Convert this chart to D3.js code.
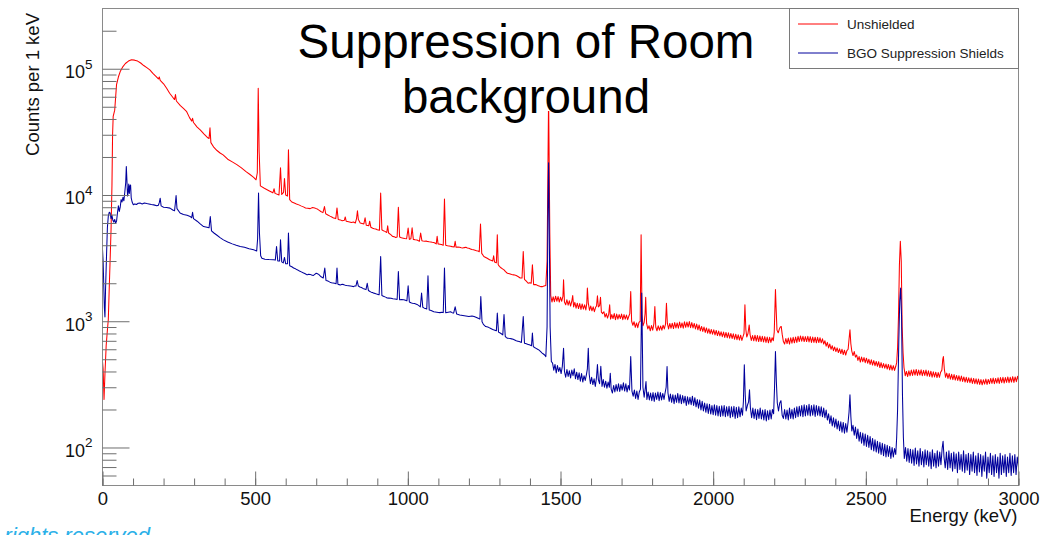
<!DOCTYPE html>
<html>
<head>
<meta charset="utf-8">
<script src="https://cdn.jsdelivr.net/npm/d3@7"></script>
<style>
  body { margin: 0; background: #fff; }
  svg { display: block; }
  text { font-family: "Liberation Sans", Arial, Helvetica, sans-serif; }
</style>
</head>
<body>
<svg id="chart" width="1064" height="535"></svg>
<script>
// ---- axis definitions ----
const energyMajorTicks = [0, 500, 1000, 1500, 2000, 2500, 3000];
const energyMinorTicks = d3.range(0, 3001, 100);
const countDecades = [2, 3, 4, 5];               // labelled as 10^n
const countMinorTicks = [60, 70, 80, 90,
  200, 300, 400, 500, 600, 700, 800, 900,
  2000, 3000, 4000, 5000, 6000, 7000, 8000, 9000,
  20000, 30000, 40000, 50000, 60000, 70000, 80000, 90000,
  200000];

const titleLines = ["Suppression of Room", "background"];
const legendLabels = ["Unshielded", "BGO Suppression Shields"];
const seriesColors = ["#ff0000", "#00009c"];

// ---- spectra: [energy (keV), counts per 1 keV] ----
const unshielded = [
  [0,480],[2,420],[5,240],[8,380],[12,640],[16,850],[19,1030],[22,1800],[25,3070],[28,5300],[31,12000],[33,30000],
  [35,42000],[40,47000],[46,75000],[52,86000],[58,95000],[67,104000],[75,110000],[85,115000],[95,118000],
  [105,117000],[115,115000],[125,111000],[135,106000],[145,102000],[155,98000],[165,92000],[175,87000],
  [183,83000],[186,86000],[189,81000],[200,76000],[210,70000],[220,64000],[230,59500],[236,57000],[239,62500],
  [242,55500],[255,51000],[265,48500],[275,46000],[285,41000],[292,38500],[295,40500],[298,37500],[310,34500],
  [320,32800],[332,30500],[345,28400],[349,28000],[352,34000],[355,26000],[365,23800],[375,22500],[385,21500],
  [395,20800],[410,19200],[425,18300],[440,17400],[455,16400],[470,15300],[482,14600],[495,13800],[503,13200],
  [507,15000],[510,70000],[513,22000],[517,11800],[530,11300],[545,10800],[558,10400],[562,11200],[565,10300],
  [578,10000],[583,16400],[587,10100],[593,10500],[596,13500],[600,10000],[606,9800],[609,22800],[613,9200],
  [620,8800],[628,8650],[635,8500],[643,8350],[650,8200],[658,8050],[665,7900],[672,7850],[680,7800],
  [688,7950],[695,7900],[700,7800],[705,7700],[710,7550],[715,7400],[722,7250],[727,8100],[731,7100],
  [738,6950],[745,6800],[751,6700],[757,6560],[764,6500],[768,7900],[772,6400],[779,6350],[785,6250],
  [792,6300],[795,6700],[798,6200],[806,6150],[815,6050],[822,6100],[828,6000],[832,6500],[835,7500],
  [838,6400],[844,6000],[850,5950],[856,5900],[860,6600],[864,5750],[872,5700],[875,6200],[879,5550],
  [885,5450],[890,5400],[895,5380],[900,5300],[907,5250],[911,10350],[915,5300],[920,5200],[925,5150],
  [931,5050],[934,5700],[937,5000],[944,4850],[950,4700],[955,4680],[960,4600],[965,4650],[969,8000],
  [973,4650],[979,4580],[985,4550],[990,4520],[996,4500],[1001,5470],[1005,4450],[1010,4500],[1014,5500],
  [1018,4450],[1024,4420],[1030,4400],[1038,4300],[1042,5000],[1046,4350],[1050,4320],[1055,4300],
  [1060,4310],[1064,4290],[1070,4260],[1075,4250],[1080,4220],[1085,4200],[1090,4150],[1093,4100],
  [1096,4700],[1099,4100],[1105,4080],[1110,4050],[1116,4000],[1120,9290],[1124,4000],[1130,3970],
  [1135,3950],[1140,3930],[1145,3900],[1152,3880],[1155,4300],[1158,3850],[1164,3870],[1170,3850],
  [1175,3820],[1180,3800],[1185,3830],[1190,3850],[1195,3800],[1200,3780],[1205,3740],[1210,3700],
  [1215,3680],[1220,3650],[1225,3620],[1230,3600],[1234,3550],[1238,5890],[1242,3450],[1249,3260],
  [1255,3200],[1260,3150],[1265,3100],[1270,3050],[1278,3000],[1281,3300],[1284,2950],[1290,2900],
  [1293,4840],[1296,2800],[1300,2720],[1305,2650],[1310,2600],[1315,2550],[1320,2470],[1326,2400],
  [1333,2380],[1340,2350],[1347,2330],[1355,2300],[1362,2250],[1368,2200],[1374,2200],[1378,3570],
  [1382,2150],[1388,2080],[1394,2000],[1399,2020],[1404,2000],[1408,2800],[1412,1950],[1420,1950],
  [1425,1920],[1430,1900],[1435,1880],[1440,1880],[1446,1900],[1452,1920],[1456,3000],[1461,60000],
  [1465,5000],[1468,1600],[1472,1420],[1476,1560],[1480,1430],[1484,1580],[1488,1440],[1492,1570],
  [1496,1420],[1500,1550],[1504,1440],[1508,1580],[1510,2130],[1513,1420],[1517,1350],[1521,1480],
  [1525,1340],[1529,1450],[1533,1320],[1537,1440],[1540,1600],[1543,1300],[1547,1410],[1551,1270],
  [1555,1390],[1559,1260],[1563,1380],[1567,1240],[1571,1370],[1575,1250],[1579,1350],[1583,1230],
  [1586,1380],[1588,1830],[1591,1400],[1595,1220],[1599,1320],[1603,1210],[1607,1300],[1611,1190],
  [1615,1290],[1618,1320],[1621,1590],[1624,1300],[1628,1330],[1631,1550],[1634,1180],[1638,1150],
  [1642,1190],[1646,1080],[1650,1150],[1654,1060],[1658,1140],[1661,1350],[1664,1040],[1668,1130],
  [1672,1050],[1676,1150],[1680,1030],[1684,1140],[1688,1040],[1692,1130],[1696,1050],[1700,1140],
  [1704,1030],[1708,1130],[1712,1040],[1716,1120],[1720,1030],[1724,1100],[1727,1150],[1730,1720],
  [1733,1000],[1737,930],[1741,990],[1745,895],[1749,970],[1753,890],[1757,980],[1761,1000],[1764,4840],
  [1767,1120],[1770,920],[1774,980],[1777,1150],[1779,1550],[1782,960],[1786,870],[1790,920],[1794,840],
  [1798,925],[1802,850],[1806,960],[1809,1310],[1812,900],[1816,840],[1820,920],[1824,850],[1828,915],
  [1832,850],[1836,930],[1840,870],[1844,950],[1847,1390],[1850,960],[1854,870],[1858,960],[1862,880],
  [1866,965],[1870,875],[1874,975],[1878,885],[1882,970],[1886,880],[1890,985],[1894,890],[1898,970],
  [1902,880],[1906,990],[1910,895],[1914,985],[1918,900],[1922,995],[1926,890],[1930,975],[1934,885],
  [1938,960],[1942,870],[1946,950],[1950,855],[1954,935],[1958,840],[1962,910],[1966,830],[1970,900],
  [1974,815],[1978,885],[1982,805],[1986,870],[1990,795],[1994,860],[1998,790],[2002,855],[2006,780],
  [2010,845],[2014,770],[2018,835],[2022,765],[2026,825],[2030,755],[2034,820],[2038,745],[2042,815],
  [2046,740],[2050,810],[2054,735],[2058,800],[2062,730],[2066,795],[2070,720],[2074,790],[2078,715],
  [2082,780],[2086,710],[2090,775],[2094,705],[2098,760],[2101,800],[2104,1350],[2107,860],[2110,750],
  [2114,800],[2118,935],[2121,780],[2125,705],[2129,770],[2133,700],[2137,775],[2141,695],[2145,770],
  [2149,690],[2153,765],[2157,690],[2161,760],[2165,685],[2169,755],[2173,680],[2177,750],[2181,675],
  [2185,745],[2189,680],[2193,740],[2197,700],[2200,820],[2202,1200],[2204,1780],[2206,1300],[2209,850],
  [2213,810],[2217,870],[2220,900],[2223,908],[2226,790],[2230,690],[2234,660],[2238,730],[2242,665],
  [2246,735],[2250,660],[2254,740],[2258,670],[2262,745],[2266,675],[2270,750],[2274,680],[2278,760],
  [2282,690],[2286,765],[2290,695],[2294,760],[2298,690],[2302,755],[2306,690],[2310,760],[2314,685],
  [2318,755],[2322,680],[2326,750],[2330,680],[2334,748],[2338,675],[2342,745],[2346,678],[2350,740],
  [2354,675],[2358,725],[2362,660],[2366,700],[2370,635],[2374,680],[2378,615],[2382,660],[2386,600],
  [2390,640],[2394,585],[2398,625],[2402,575],[2406,615],[2410,565],[2414,605],[2418,555],[2422,600],
  [2426,545],[2430,590],[2434,540],[2438,585],[2442,600],[2445,720],[2448,855],[2451,660],[2454,580],
  [2458,535],[2462,575],[2466,520],[2470,540],[2474,490],[2478,525],[2482,475],[2486,520],[2490,478],
  [2494,515],[2498,470],[2502,510],[2506,465],[2510,500],[2514,455],[2518,495],[2522,450],[2526,488],
  [2530,445],[2534,480],[2538,440],[2542,478],[2546,430],[2550,470],[2554,428],[2558,462],[2562,425],
  [2566,458],[2570,418],[2574,455],[2578,412],[2582,450],[2586,410],[2590,445],[2594,408],[2598,440],
  [2601,470],[2604,620],[2607,1100],[2610,2800],[2613,4290],[2616,3000],[2619,900],[2622,560],[2625,430],
  [2629,370],[2633,400],[2637,365],[2641,405],[2645,370],[2649,410],[2653,372],[2657,412],[2661,375],
  [2665,415],[2669,372],[2673,410],[2677,375],[2681,412],[2685,370],[2689,408],[2693,372],[2697,410],
  [2701,368],[2705,405],[2709,365],[2713,402],[2717,360],[2721,398],[2725,362],[2729,395],[2733,358],
  [2737,392],[2741,360],[2745,395],[2749,410],[2752,500],[2754,525],[2757,420],[2761,360],[2765,388],
  [2769,352],[2773,385],[2777,348],[2781,380],[2785,345],[2789,378],[2793,342],[2797,372],[2801,340],
  [2805,370],[2809,336],[2813,368],[2817,334],[2821,362],[2825,330],[2829,360],[2833,328],[2837,356],
  [2841,326],[2845,355],[2849,322],[2853,352],[2857,320],[2861,350],[2865,318],[2869,348],[2873,316],
  [2877,345],[2881,314],[2885,344],[2889,318],[2893,348],[2897,316],[2901,346],[2905,320],[2909,352],
  [2913,322],[2917,355],[2921,320],[2925,352],[2929,324],[2933,356],[2937,322],[2941,358],[2945,326],
  [2949,360],[2953,324],[2957,358],[2961,328],[2965,362],[2969,326],[2973,360],[2977,330],[2981,364],
  [2985,328],[2989,362],[2993,332],[2997,366],[3000,345]
];

const bgoShielded = [
  [0,3700],[2,3000],[4,2000],[6,1300],[8,1080],[10,1800],[13,3200],[16,5500],[19,6800],[22,7300],[25,7200],
  [28,6500],[31,6900],[34,6300],[37,6100],[40,6400],[43,6000],[46,6200],[49,7200],[52,8200],[55,7400],
  [58,8000],[61,9200],[64,8800],[67,9600],[70,9000],[73,10500],[76,12500],[78,16800],[80,13000],[82,9800],
  [84,10500],[86,12200],[88,10300],[90,11800],[92,12000],[94,9500],[97,8800],[101,8360],[106,8500],
  [111,8400],[117,8600],[123,8630],[130,8500],[137,8650],[145,8550],[152,8500],[160,8400],[168,8350],
  [178,8220],[183,8300],[186,8700],[189,9430],[192,8200],[200,8000],[210,7950],[221,7870],[230,7600],
  [236,7500],[239,8800],[241,9910],[244,7800],[254,7190],[265,7000],[277,6900],[287,6760],[292,6600],
  [295,7300],[298,6500],[310,6200],[320,5900],[331,5620],[342,5550],[349,5500],[353,6760],[357,5200],
  [365,5000],[375,4800],[385,4600],[396,4410],[410,4250],[425,4100],[438,4000],[451,3910],[465,3850],
  [480,3750],[495,3680],[505,3600],[508,4500],[511,10350],[514,5000],[518,3300],[522,3160],[532,3100],
  [545,3080],[560,3070],[566,3050],[570,3910],[574,3000],[580,3000],[583,4410],[587,2950],[592,2900],
  [596,3200],[600,2850],[606,2850],[609,4990],[613,2750],[620,2700],[626,2640],[632,2600],[639,2550],
  [645,2500],[651,2460],[657,2420],[664,2380],[670,2330],[675,2360],[680,2350],[685,2320],[690,2300],
  [695,2350],[700,2400],[704,2380],[708,2350],[712,2300],[716,2250],[723,2200],[728,2640],[732,2100],
  [736,2090],[740,2070],[745,2040],[750,2020],[755,2010],[760,2000],[765,1980],[768,2640],[771,1960],
  [775,1950],[779,1940],[785,1960],[790,1950],[795,1930],[800,1920],[806,1910],[812,1900],[817,1890],
  [822,1880],[826,1900],[830,1900],[834,2100],[838,1900],[843,1870],[848,1850],[853,1820],[858,1800],
  [863,1780],[867,2000],[871,1750],[876,1720],[880,1700],[884,1690],[888,1670],[893,1660],[898,1640],
  [902,1630],[906,1620],[911,3260],[915,1600],[920,1580],[925,1560],[929,1545],[932,1530],[938,1525],
  [945,1520],[951,1510],[958,1500],[962,1495],[965,1490],[969,2480],[973,1480],[980,1485],[987,1480],
  [992,1465],[997,1450],[1001,1910],[1005,1420],[1010,1400],[1015,1390],[1022,1380],[1026,1370],
  [1030,1360],[1036,1330],[1041,1300],[1045,1670],[1049,1290],[1054,1270],[1058,1260],[1062,1250],
  [1066,2290],[1070,1230],[1074,1220],[1078,1210],[1085,1190],[1090,1185],[1095,1180],[1100,1175],
  [1105,1170],[1112,1180],[1116,1170],[1120,2640],[1124,1170],[1128,1175],[1132,1180],[1136,1185],
  [1140,1190],[1145,1170],[1150,1160],[1155,1300],[1160,1140],[1165,1130],[1170,1120],[1175,1115],
  [1180,1110],[1185,1105],[1190,1100],[1195,1095],[1200,1090],[1205,1095],[1210,1100],[1217,1090],
  [1221,1080],[1225,1070],[1232,1050],[1236,1040],[1239,1570],[1243,990],[1247,950],[1250,930],
  [1255,908],[1262,900],[1266,890],[1270,880],[1278,860],[1285,850],[1290,840],[1293,1160],[1297,820],
  [1301,810],[1305,800],[1311,780],[1315,1130],[1319,760],[1322,745],[1326,734],[1330,732],[1335,730],
  [1340,725],[1345,720],[1350,710],[1355,700],[1360,695],[1365,690],[1372,680],[1378,1090],[1382,670],
  [1386,665],[1390,660],[1394,655],[1398,650],[1405,640],[1408,805],[1411,630],[1415,620],[1420,610],
  [1425,600],[1430,590],[1435,575],[1440,560],[1444,550],[1448,540],[1452,525],[1456,900],[1459,8000],
  [1461,18000],[1463,6000],[1466,900],[1470,480],[1474,466],[1478,410],[1482,455],[1486,390],[1490,445],
  [1494,400],[1498,430],[1502,385],[1506,440],[1510,612],[1513,400],[1517,360],[1521,415],[1525,365],
  [1529,405],[1533,355],[1537,410],[1541,370],[1545,420],[1549,350],[1553,395],[1557,345],[1561,390],
  [1565,335],[1569,385],[1573,330],[1577,370],[1581,340],[1585,380],[1588,420],[1591,612],[1594,380],
  [1598,320],[1602,360],[1606,315],[1610,350],[1614,305],[1618,360],[1621,455],[1624,345],[1628,320],
  [1632,440],[1636,305],[1640,345],[1644,300],[1648,335],[1652,295],[1656,330],[1660,300],[1663,387],
  [1666,290],[1670,270],[1674,310],[1678,275],[1682,315],[1686,280],[1690,320],[1694,278],[1698,315],
  [1702,285],[1706,325],[1710,280],[1714,320],[1718,275],[1722,310],[1726,285],[1730,525],[1734,280],
  [1738,255],[1742,285],[1746,245],[1750,280],[1754,240],[1758,275],[1762,290],[1766,1670],[1770,300],
  [1774,250],[1778,300],[1780,333],[1783,240],[1787,275],[1791,238],[1795,270],[1799,235],[1803,272],
  [1807,232],[1811,270],[1815,240],[1819,275],[1823,235],[1827,272],[1831,238],[1835,268],[1839,240],
  [1843,275],[1846,300],[1849,438],[1852,270],[1856,232],[1860,265],[1864,228],[1868,262],[1872,222],
  [1876,260],[1880,228],[1884,268],[1888,225],[1892,262],[1896,222],[1900,258],[1904,225],[1908,255],
  [1912,215],[1916,252],[1920,220],[1924,250],[1928,218],[1932,255],[1936,215],[1940,248],[1944,210],
  [1948,240],[1952,205],[1956,238],[1960,198],[1964,232],[1968,195],[1972,225],[1976,190],[1980,222],
  [1984,186],[1988,220],[1992,184],[1996,215],[2000,182],[2004,218],[2008,180],[2012,215],[2016,178],
  [2020,212],[2024,176],[2028,214],[2032,178],[2036,215],[2040,175],[2044,210],[2048,178],[2052,212],
  [2056,172],[2060,210],[2064,175],[2068,212],[2072,170],[2076,208],[2080,172],[2084,210],[2088,175],
  [2092,205],[2096,180],[2099,230],[2102,452],[2105,260],[2108,195],[2112,215],[2116,230],[2119,286],
  [2122,205],[2126,172],[2130,205],[2134,170],[2138,202],[2142,166],[2146,200],[2150,170],[2154,205],
  [2158,168],[2162,198],[2166,165],[2170,200],[2174,162],[2178,195],[2182,166],[2186,198],[2190,168],
  [2194,200],[2198,185],[2201,300],[2204,576],[2207,330],[2210,225],[2214,195],[2218,225],[2222,235],
  [2226,180],[2230,170],[2234,200],[2238,168],[2242,198],[2246,165],[2250,205],[2254,170],[2258,200],
  [2262,168],[2266,205],[2270,172],[2274,210],[2278,175],[2282,212],[2286,178],[2290,215],[2294,175],
  [2298,218],[2302,178],[2306,215],[2310,180],[2314,220],[2318,178],[2322,215],[2326,180],[2330,218],
  [2334,176],[2338,215],[2342,180],[2346,212],[2350,178],[2354,210],[2358,175],[2362,205],[2366,172],
  [2370,198],[2374,165],[2378,185],[2382,155],[2386,178],[2390,148],[2394,172],[2398,145],[2402,168],
  [2406,140],[2410,162],[2414,136],[2418,160],[2422,132],[2426,158],[2430,130],[2434,155],[2438,132],
  [2442,160],[2445,190],[2448,261],[2451,175],[2454,135],[2458,150],[2462,125],[2466,145],[2470,118],
  [2474,140],[2478,112],[2482,132],[2486,108],[2490,130],[2494,104],[2498,128],[2502,102],[2506,125],
  [2510,100],[2514,122],[2518,96],[2522,118],[2526,94],[2530,115],[2534,92],[2538,112],[2542,90],
  [2546,110],[2550,88],[2554,108],[2558,86],[2562,106],[2566,84],[2570,104],[2574,85],[2578,102],
  [2582,82],[2586,100],[2590,84],[2594,98],[2598,88],[2601,120],[2604,200],[2608,700],[2611,1450],
  [2614,1830],[2617,1100],[2620,260],[2623,120],[2626,82],[2630,100],[2634,78],[2638,98],[2642,76],
  [2646,97],[2650,75],[2654,96],[2658,72],[2662,99],[2666,74],[2670,94],[2674,71],[2678,98],[2682,73],
  [2686,93],[2690,70],[2694,96],[2698,73],[2702,94],[2706,71],[2710,92],[2714,68],[2718,96],[2722,71],
  [2726,90],[2730,69],[2734,94],[2738,71],[2742,92],[2746,73],[2750,99],[2753,112],[2756,84],[2760,69],
  [2764,92],[2768,67],[2772,94],[2776,69],[2780,90],[2784,65],[2788,92],[2792,68],[2796,89],[2800,63],
  [2804,92],[2808,67],[2812,88],[2816,65],[2820,94],[2824,63],[2828,88],[2832,66],[2836,90],[2840,61],
  [2844,88],[2848,65],[2852,92],[2856,63],[2860,86],[2864,60],[2868,90],[2872,64],[2876,88],[2880,59],
  [2884,86],[2888,65],[2892,92],[2896,57],[2900,84],[2904,63],[2908,90],[2912,61],[2916,86],[2920,59],
  [2924,88],[2928,63],[2932,84],[2936,57],[2940,90],[2944,61],[2948,86],[2952,63],[2956,88],[2960,59],
  [2964,84],[2968,63],[2972,90],[2976,60],[2980,86],[2984,63],[2988,88],[2992,61],[2996,84],[3000,70]
];

// ---- layout ----
const W = 1064, H = 535;
const frame = { left: 102.5, right: 1018.5, top: 8.5, bottom: 485.5 };
const axisColor = "#6e6e6e";

const svg = d3.select("#chart");
svg.append("rect").attr("width", W).attr("height", H).attr("fill", "#fff");

const x = d3.scaleLinear().domain([0, 3000]).range([frame.left, frame.right]);
const y = d3.scaleLog().domain([50, 3.0e5]).range([frame.bottom, frame.top]);

svg.append("clipPath").attr("id", "plotClip")
  .append("rect")
  .attr("x", frame.left).attr("y", frame.top)
  .attr("width", frame.right - frame.left).attr("height", frame.bottom - frame.top);

// ---- spectra ----
const line = d3.line().x(d => x(d[0])).y(d => y(d[1]));
const plot = svg.append("g").attr("clip-path", "url(#plotClip)");
[unshielded, bgoShielded].forEach((series, i) => {
  plot.append("path")
    .attr("d", line(series))
    .attr("fill", "none")
    .attr("stroke", seriesColors[i])
    .attr("stroke-width", 1.05)
    .attr("stroke-linejoin", "round");
});

// ---- frame ----
svg.append("rect")
  .attr("x", frame.left).attr("y", frame.top)
  .attr("width", frame.right - frame.left).attr("height", frame.bottom - frame.top)
  .attr("fill", "none").attr("stroke", "#8a8a8a").attr("stroke-width", 1);

// ---- x axis (ticks pointing into the plot) ----
const xMinor = svg.append("g").attr("transform", `translate(0,${frame.bottom})`)
  .call(d3.axisBottom(x).tickValues(energyMinorTicks).tickSize(-7).tickFormat(""));
const xMajor = svg.append("g").attr("transform", `translate(0,${frame.bottom})`)
  .call(d3.axisBottom(x).tickValues(energyMajorTicks).tickSize(-14).tickPadding(6.5).tickFormat(d3.format("d")));
[xMinor, xMajor].forEach(g => {
  g.select(".domain").remove();
  g.selectAll("line").attr("stroke", axisColor);
});
xMajor.selectAll("text")
  .attr("font-size", "18.5px").attr("fill", "#111")
  .attr("font-family", "'Liberation Sans', Arial, sans-serif");

// ---- y axis (log, ticks pointing into the plot) ----
const yMinor = svg.append("g").attr("transform", `translate(${frame.left},0)`)
  .call(d3.axisLeft(y).tickValues(countMinorTicks).tickSize(-14).tickFormat(""));
const yMajor = svg.append("g").attr("transform", `translate(${frame.left},0)`)
  .call(d3.axisLeft(y).tickValues(countDecades.map(e => Math.pow(10, e))).tickSize(-27).tickFormat(""));
[yMinor, yMajor].forEach(g => {
  g.select(".domain").remove();
  g.selectAll("line").attr("stroke", axisColor);
});
const yLabels = svg.append("g");
countDecades.forEach(e => {
  const t = yLabels.append("text")
    .attr("x", 92.5).attr("y", y(Math.pow(10, e)) + 9.3)
    .attr("text-anchor", "end").attr("fill", "#111");
  t.append("tspan").attr("font-size", "18px").text("10");
  t.append("tspan").attr("font-size", "13.5px").attr("dy", -9.5).text(String(e));
});

// ---- axis titles ----
svg.append("text")
  .attr("x", frame.right - 1).attr("y", 522)
  .attr("text-anchor", "end").attr("font-size", "18.5px").attr("fill", "#111")
  .text("Energy (keV)");
svg.append("text")
  .attr("transform", "translate(38.5,13) rotate(-90)")
  .attr("text-anchor", "end").attr("font-size", "18.5px").attr("fill", "#111")
  .text("Counts per 1 keV");

// ---- title block ----
svg.append("rect")
  .attr("x", 286).attr("y", 11).attr("width", 482).attr("height", 100)
  .attr("fill", "#fff");
titleLines.forEach((s, i) => {
  svg.append("text")
    .attr("x", 526).attr("y", 57.5 + i * 55.5)
    .attr("text-anchor", "middle").attr("font-size", "47.5px").attr("fill", "#000")
    .text(s);
});

// ---- legend ----
const legend = svg.append("g");
legend.append("rect")
  .attr("x", 789.5).attr("y", 8.5).attr("width", 229).attr("height", 60)
  .attr("fill", "#fff").attr("stroke", "#7a7a7a").attr("stroke-width", 1);
legendLabels.forEach((label, i) => {
  const cy = 24 + i * 29;
  legend.append("line")
    .attr("x1", 798).attr("x2", 838).attr("y1", cy).attr("y2", cy)
    .attr("stroke", seriesColors[i]).attr("stroke-width", 1);
  legend.append("text")
    .attr("x", 847).attr("y", cy + 4.8)
    .attr("font-size", "13.5px").attr("fill", "#222")
    .text(label);
});

// ---- footer line of the page ----
svg.append("text")
  .attr("x", -26).attr("y", 543)
  .attr("font-size", "22px").attr("font-style", "italic").attr("fill", "#2bb0e8")
  .text("All rights reserved");
</script>
</body>
</html>
